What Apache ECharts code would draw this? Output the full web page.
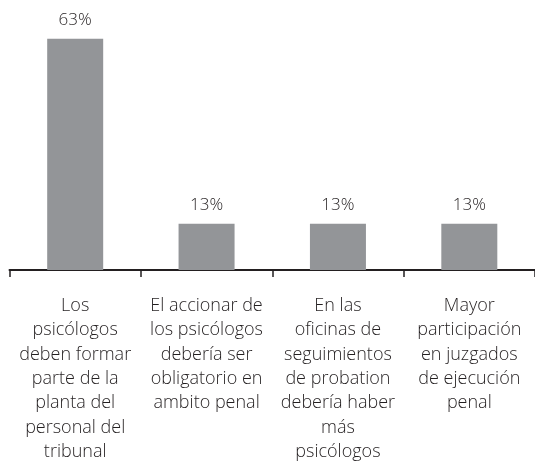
<!DOCTYPE html>
<html>
<head>
<meta charset="utf-8">
<script src="https://cdn.jsdelivr.net/npm/echarts@6/dist/echarts.min.js"></script>
<style>
  html, body { margin: 0; padding: 0; background: #fff; }
  #chart { width: 535px; height: 464px; }
</style>
</head>
<body>
<div id="chart"></div>
<script>
// categories (line breaks as in the original chart)
const categories = [
  'Los\npsicólogos\ndeben formar\nparte de la\nplanta del\npersonal del\ntribunal',
  'El accionar de\nlos psicólogos\ndebería ser\nobligatorio en\nambito penal',
  'En las\noficinas de\nseguimientos\nde probation\ndebería haber\nmás\npsicólogos',
  'Mayor\nparticipación\nen juzgados\nde ejecución\npenal'
];
// percentages (labels shown rounded)
const values = [62.5, 12.5, 12.5, 12.5];

const chart = echarts.init(document.getElementById('chart'));

const textColor = '#231f20';
const fontFamily = '"Open Sans", Lato, sans-serif';

const option = {
  animation: false,
  grid: { left: 9.5, width: 532, top: 11, bottom: 193, containLabel: false },
  xAxis: {
    type: 'category',
    data: categories,
    axisLine: { lineStyle: { color: textColor, width: 2 } },
    axisTick: { show: true, length: 7, lineStyle: { color: textColor, width: 1.5 } },
    axisLabel: {
      interval: 0,
      margin: 24,
      color: textColor,
      fontSize: 18,
      fontWeight: 300,
      lineHeight: 24.3,
      fontFamily: fontFamily,
      align: 'center'
    }
  },
  yAxis: { type: 'value', min: 0, max: 70, show: false },
  series: [{
    type: 'bar',
    data: values,
    barWidth: 56,
    itemStyle: { color: '#939598' },
    label: {
      show: true,
      position: 'top',
      distance: 10,
      color: textColor,
      fontSize: 17,
      fontWeight: 300,
      fontFamily: fontFamily,
      formatter: p => Math.round(p.value) + '%'
    }
  }]
};

chart.setOption(option);
</script>
</body>
</html>
